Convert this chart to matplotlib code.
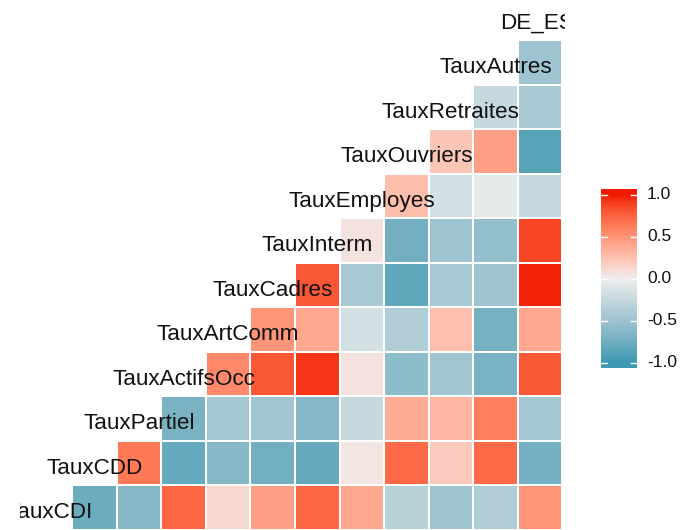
import numpy as np
import matplotlib
matplotlib.use('Agg')
import matplotlib.pyplot as plt
import matplotlib.colors as mcolors
import matplotlib.transforms as mtransforms

plt.rcParams['font.family'] = ['Liberation Sans', 'DejaVu Sans']

# row variables, top to bottom; the column for row k holds the variable of row (11 - column)
variables = ['DE_ESt', 'TauxAutres', 'TauxRetraites', 'TauxOuvriers', 'TauxEmployes',
             'TauxInterm', 'TauxCadres', 'TauxArtComm', 'TauxActifsOcc', 'TauxPartiel',
             'TauxCDD', 'TauxCDI']

# lower triangle, each row read left to right (first cell sits next to the label)
corr_rows = [
    [],
    [-0.50],
    [-0.25, -0.43],
    [0.23, 0.44, -0.88],
    [0.28, -0.17, -0.06, -0.25],
    [0.07, -0.74, -0.50, -0.56, 0.88],
    [0.81, -0.43, -0.84, -0.43, -0.49, 0.98],
    [0.50, 0.40, -0.17, -0.38, 0.26, -0.72, 0.40],
    [0.57, 0.81, 0.93, 0.07, -0.59, -0.47, -0.71, 0.81],
    [-0.71, -0.44, -0.47, -0.63, -0.25, 0.38, 0.32, 0.62, -0.46],
    [0.65, -0.82, -0.63, -0.75, -0.81, 0.05, 0.72, 0.21, 0.72, -0.73],
    [-0.78, -0.63, 0.74, 0.13, 0.44, 0.74, 0.40, -0.34, -0.50, -0.39, 0.50],
]

cb_ticks = [-1.0, -0.5, 0.0, 0.5, 1.0]

low, mid, high = '#3B9AB2', '#EEEEEE', '#F21A00'


# gradient interpolated in CIELAB, like ggplot's gradient2
M = np.array([[0.4124, 0.3576, 0.1805],
              [0.2126, 0.7152, 0.0722],
              [0.0193, 0.1192, 0.9505]])
WHITE = np.array([0.95047, 1.0, 1.08883])


def to_lab(c):
    rgb = np.array(mcolors.to_rgb(c))
    lin = np.where(rgb <= 0.04045, rgb / 12.92, ((rgb + 0.055) / 1.055) ** 2.4)
    xyz = M @ lin / WHITE
    f = np.where(xyz > 0.008856, np.cbrt(xyz), 7.787 * xyz + 16 / 116)
    return np.array([116 * f[1] - 16, 500 * (f[0] - f[1]), 200 * (f[1] - f[2])])


def from_lab(lab):
    fy = (lab[0] + 16) / 116
    fx = fy + lab[1] / 500
    fz = fy - lab[2] / 200
    f = np.array([fx, fy, fz])
    xyz = np.where(f ** 3 > 0.008856, f ** 3, (f - 16 / 116) / 7.787) * WHITE
    lin = np.linalg.solve(M, xyz)
    lin = np.clip(lin, 0, 1)
    rgb = np.where(lin <= 0.0031308, 12.92 * lin, 1.055 * lin ** (1 / 2.4) - 0.055)
    return np.clip(rgb, 0, 1)


lab_low, lab_mid, lab_high = to_lab(low), to_lab(mid), to_lab(high)
cols = []
for t in np.linspace(-1, 1, 256):
    if t < 0:
        cols.append(from_lab(lab_mid + (-t) * (lab_low - lab_mid)))
    else:
        cols.append(from_lab(lab_mid + t * (lab_high - lab_mid)))
cmap = mcolors.ListedColormap(cols)
norm = mcolors.Normalize(-1, 1)

n = len(variables)
grid = np.full((n, n), np.nan)
for i, row in enumerate(corr_rows):
    for k, v in enumerate(row):
        grid[i, n - i + k] = v

W, H = 686, 530
fig = plt.figure(figsize=(W / 100, H / 100), dpi=100)

# heatmap panel
ax = fig.add_axes([20 / W, 0, 545 / W, 1])
ax.pcolormesh(np.arange(n + 1) - 0.5, np.arange(n + 1) - 0.5, np.ma.masked_invalid(grid),
              cmap=cmap, norm=norm, edgecolors='white', linewidth=1.4)
for i, name in enumerate(variables):
    ax.text(n - 1 - i, i + 0.25, name, ha='center', va='baseline', fontsize=16.2,
            color='#111111', clip_on=True)
ax.set_xlim(-0.673, 11.56)
ax.set_ylim(11.511, -0.399)
ax.axis('off')

# colour bar
cax = fig.add_axes([601 / W, (H - 368) / H, 36 / W, 179 / H])
grad = np.linspace(-1.06, 1.07, 300).reshape(-1, 1)
cax.imshow(grad, aspect='auto', extent=[0, 1, -1.06, 1.07], origin='lower', cmap=cmap, norm=norm)
cax.set_xlim(0, 1)
cax.set_ylim(-1.06, 1.07)
for v in cb_ticks:
    cax.plot([0, 0.18], [v, v], color='white', lw=1)
    cax.plot([0.82, 1], [v, v], color='white', lw=1)
    cax.text(1.28, v, f'{v:.1f}', ha='left', va='center', fontsize=12.5, color='#111111',
             transform=mtransforms.blended_transform_factory(cax.transAxes, cax.transData))
cax.axis('off')

fig.savefig('out.png', dpi=100)
